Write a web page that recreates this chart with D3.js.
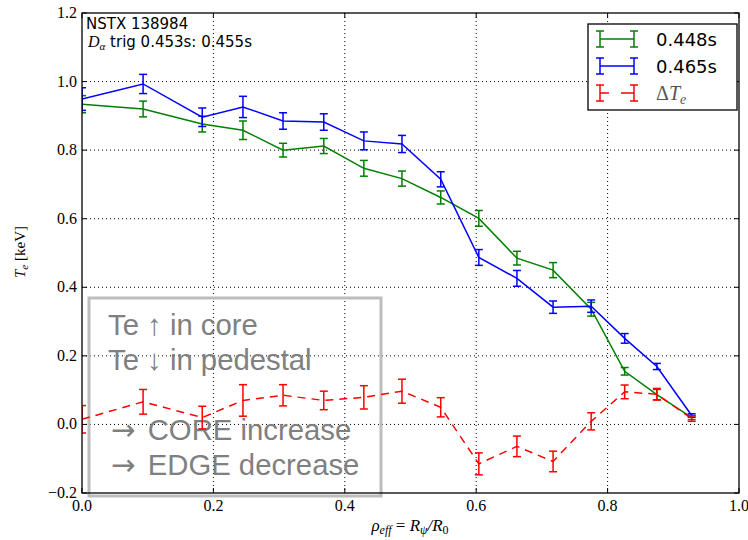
<!DOCTYPE html>
<html><head><meta charset="utf-8">
<script src="https://cdn.jsdelivr.net/npm/d3@7"></script>
<style>body{margin:0;background:#fff}svg{display:block}</style>
</head><body>
<svg id="c" width="748" height="540"></svg>
<script>
const rho = [0.0, 0.093, 0.183, 0.245, 0.306, 0.368, 0.429, 0.487, 0.546, 0.604, 0.662, 0.717, 0.775, 0.826, 0.875, 0.928];
const te448 = [0.934, 0.920, 0.876, 0.858, 0.800, 0.812, 0.747, 0.717, 0.662, 0.601, 0.485, 0.450, 0.336, 0.155, 0.087, 0.020];
const err448 = [0.025, 0.023, 0.023, 0.027, 0.020, 0.022, 0.023, 0.022, 0.019, 0.023, 0.020, 0.022, 0.020, 0.011, 0.015, 0.006];
const te465 = [0.949, 0.993, 0.896, 0.926, 0.885, 0.882, 0.827, 0.818, 0.715, 0.487, 0.426, 0.342, 0.345, 0.251, 0.169, 0.026];
const err465 = [0.033, 0.028, 0.027, 0.031, 0.024, 0.024, 0.026, 0.025, 0.022, 0.023, 0.023, 0.018, 0.018, 0.014, 0.009, 0.005];
const dTe = [0.015, 0.066, 0.020, 0.070, 0.085, 0.070, 0.079, 0.097, 0.050, -0.115, -0.064, -0.108, 0.009, 0.095, 0.088, 0.017];
const errD = [0.040, 0.036, 0.033, 0.046, 0.031, 0.027, 0.034, 0.035, 0.028, 0.032, 0.030, 0.030, 0.025, 0.020, 0.017, 0.008];
const xTicks = [0.0, 0.2, 0.4, 0.6, 0.8, 1.0];
const yTicks = [-0.2, 0.0, 0.2, 0.4, 0.6, 0.8, 1.0, 1.2];
const seriesNames = ["0.448s", "0.465s", "ΔTe"];
const seriesColors = ["#008000", "#0000ff", "#ff0000"];
// each note line: [prefix, arrow, text]
const noteLines = [["Te ", "↑", " in core"], ["Te ", "↓", " in pedestal"], ["", "", ""], ["", "→", " CORE increase"], ["", "→", " EDGE decrease"]];

const svg = d3.select("#c");
const L = 82, R = 739, T = 13, B = 493;
const x = d3.scaleLinear().domain([0, 1]).range([L, R]);
const y = d3.scaleLinear().domain([-0.2, 1.2]).range([B, T]);
const serif = "'Liberation Serif','DejaVu Serif',serif";
const sans = "'Liberation Sans',Arial,sans-serif";
const vera = "'DejaVu Sans',sans-serif";

// grid
const g = svg.append("g");
g.selectAll(".gx").data(xTicks.slice(1, -1)).enter().append("line")
  .attr("x1", d => x(d)).attr("x2", d => x(d)).attr("y1", T).attr("y2", B)
  .attr("stroke", "#000").attr("stroke-width", 1).attr("stroke-dasharray", "1,3");
g.selectAll(".gy").data(yTicks.slice(1, -1)).enter().append("line")
  .attr("y1", d => y(d)).attr("y2", d => y(d)).attr("x1", L).attr("x2", R)
  .attr("stroke", "#000").attr("stroke-width", 1).attr("stroke-dasharray", "1,3");

// note box
svg.append("rect").attr("x", 89).attr("y", 298).attr("width", 292).attr("height", 198)
  .attr("fill", "none").attr("stroke", "#bdbdbd").attr("stroke-width", 3);
noteLines.forEach((d, i) => {
  const isArrow = d[1] === "→";
  const t = svg.append("text").attr("x", isArrow ? 111 : 108).attr("y", 335 + i * 35)
    .attr("font-family", sans).attr("font-size", 29.3).attr("fill", "#808080");
  t.append("tspan").text(d[0]);
  t.append("tspan").attr("font-family", isArrow ? vera : sans).text(d[1]);
  t.append("tspan").attr("dx", isArrow ? 4 : 0).text(d[2]);
});

// data
svg.append("clipPath").attr("id", "pc").append("rect")
  .attr("x", L).attr("y", T).attr("width", R - L).attr("height", B - T);
const plot = svg.append("g").attr("clip-path", "url(#pc)");
const line = d3.line().x(d => x(d[0])).y(d => y(d[1]));
function series(vals, errs, color, dashed) {
  const pts = rho.map((r, i) => [r, vals[i], errs[i]]);
  plot.append("path").datum(pts).attr("d", line).attr("fill", "none")
    .attr("stroke", color).attr("stroke-width", 1.5)
    .attr("stroke-dasharray", dashed ? "8,6" : null);
  const eg = plot.append("g").attr("stroke", color).attr("stroke-width", 1.5);
  pts.forEach(p => {
    const cx = x(p[0]), y1 = y(p[1] - p[2]), y2 = y(p[1] + p[2]);
    eg.append("line").attr("x1", cx).attr("x2", cx).attr("y1", y1).attr("y2", y2);
    eg.append("line").attr("x1", cx - 4).attr("x2", cx + 4).attr("y1", y1).attr("y2", y1);
    eg.append("line").attr("x1", cx - 4).attr("x2", cx + 4).attr("y1", y2).attr("y2", y2);
  });
}
series(te448, err448, seriesColors[0], false);
series(te465, err465, seriesColors[1], false);
series(dTe, errD, seriesColors[2], true);

// frame and ticks
svg.append("rect").attr("x", L).attr("y", T).attr("width", R - L).attr("height", B - T)
  .attr("fill", "none").attr("stroke", "#000").attr("stroke-width", 1.3);
const ax = svg.append("g").attr("stroke", "#000").attr("stroke-width", 1);
xTicks.forEach(t => {
  ax.append("line").attr("x1", x(t)).attr("x2", x(t)).attr("y1", B).attr("y2", B - 5);
  ax.append("line").attr("x1", x(t)).attr("x2", x(t)).attr("y1", T).attr("y2", T + 5);
});
yTicks.forEach(t => {
  ax.append("line").attr("y1", y(t)).attr("y2", y(t)).attr("x1", L).attr("x2", L + 5);
  ax.append("line").attr("y1", y(t)).attr("y2", y(t)).attr("x1", R).attr("x2", R - 5);
});
const fmt = d3.format(".1f");
svg.selectAll(".xl").data(xTicks).enter().append("text")
  .attr("x", d => x(d)).attr("y", B + 18).attr("text-anchor", "middle")
  .attr("font-family", serif).attr("font-size", 16).text(d => fmt(d));
svg.selectAll(".yl").data(yTicks).enter().append("text")
  .attr("x", L - 5).attr("y", d => y(d) + 5).attr("text-anchor", "end")
  .attr("font-family", serif).attr("font-size", 16).text(d => fmt(d).replace("-", "−"));

// axis labels
const xl = svg.append("text").attr("x", 410).attr("y", 531).attr("text-anchor", "middle")
  .attr("font-family", serif).attr("font-size", 17);
xl.append("tspan").attr("font-style", "italic").text("ρ");
xl.append("tspan").attr("font-style", "italic").attr("font-size", 12).attr("dy", 3).text("eff");
xl.append("tspan").attr("dy", -3).text(" = ");
xl.append("tspan").attr("font-style", "italic").text("R");
xl.append("tspan").attr("font-style", "italic").attr("font-size", 12).attr("dy", 3).text("ψ");
xl.append("tspan").attr("dy", -3).attr("font-style", "italic").text("/R");
xl.append("tspan").attr("font-size", 12).attr("dy", 3).text("0");

const yl = svg.append("text").attr("transform", "translate(25,252) rotate(-90)")
  .attr("text-anchor", "middle").attr("font-family", serif).attr("font-size", 15);
yl.append("tspan").attr("font-style", "italic").text("T");
yl.append("tspan").attr("font-style", "italic").attr("font-size", 11).attr("dy", 3).text("e");
yl.append("tspan").attr("dy", -3).text(" [keV]");

// top-left annotation
svg.append("text").attr("x", 86).attr("y", 29).attr("font-family", vera).attr("font-size", 15).text("NSTX 138984");
const an = svg.append("text").attr("x", 88).attr("y", 47).attr("font-family", vera).attr("font-size", 15);
an.append("tspan").attr("font-family", serif).attr("font-style", "italic").attr("font-size", 16).text("D");
an.append("tspan").attr("font-family", serif).attr("font-style", "italic").attr("font-size", 11).attr("dy", 3).text("α");
an.append("tspan").attr("dy", -3).text(" trig 0.453s: 0.455s");

// legend
const lg = svg.append("g");
lg.append("rect").attr("x", 588).attr("y", 24).attr("width", 149).attr("height", 86)
  .attr("fill", "#fff").attr("stroke", "#000").attr("stroke-width", 1.3);
const ly = [39, 66, 93];
seriesNames.forEach((n, i) => {
  const c = seriesColors[i], yy = ly[i];
  const gg = lg.append("g").attr("stroke", c).attr("stroke-width", 1.5);
  if (i < 2) {
    gg.append("line").attr("x1", 600).attr("x2", 634).attr("y1", yy).attr("y2", yy);
  } else {
    gg.append("line").attr("x1", 600).attr("x2", 609).attr("y1", yy).attr("y2", yy);
    gg.append("line").attr("x1", 621).attr("x2", 634).attr("y1", yy).attr("y2", yy);
  }
  [600, 634].forEach(xx => gg.append("line").attr("x1", xx).attr("x2", xx).attr("y1", yy - 8).attr("y2", yy + 8));
  [600, 634].forEach(xx => {
    gg.append("line").attr("x1", xx - 4).attr("x2", xx + 4).attr("y1", yy - 8).attr("y2", yy - 8);
    gg.append("line").attr("x1", xx - 4).attr("x2", xx + 4).attr("y1", yy + 8).attr("y2", yy + 8);
  });
  if (i < 2) {
    lg.append("text").attr("x", 656).attr("y", yy + 7).attr("font-family", vera).attr("font-size", 18).text(n);
  } else {
    const t = lg.append("text").attr("x", 656).attr("y", yy + 7).attr("font-family", serif).attr("font-size", 20).attr("fill", "#555");
    t.append("tspan").text("Δ");
    t.append("tspan").attr("font-style", "italic").text("T");
    t.append("tspan").attr("font-style", "italic").attr("font-size", 14).attr("dy", 4).text("e");
  }
});
</script>
</body></html>
